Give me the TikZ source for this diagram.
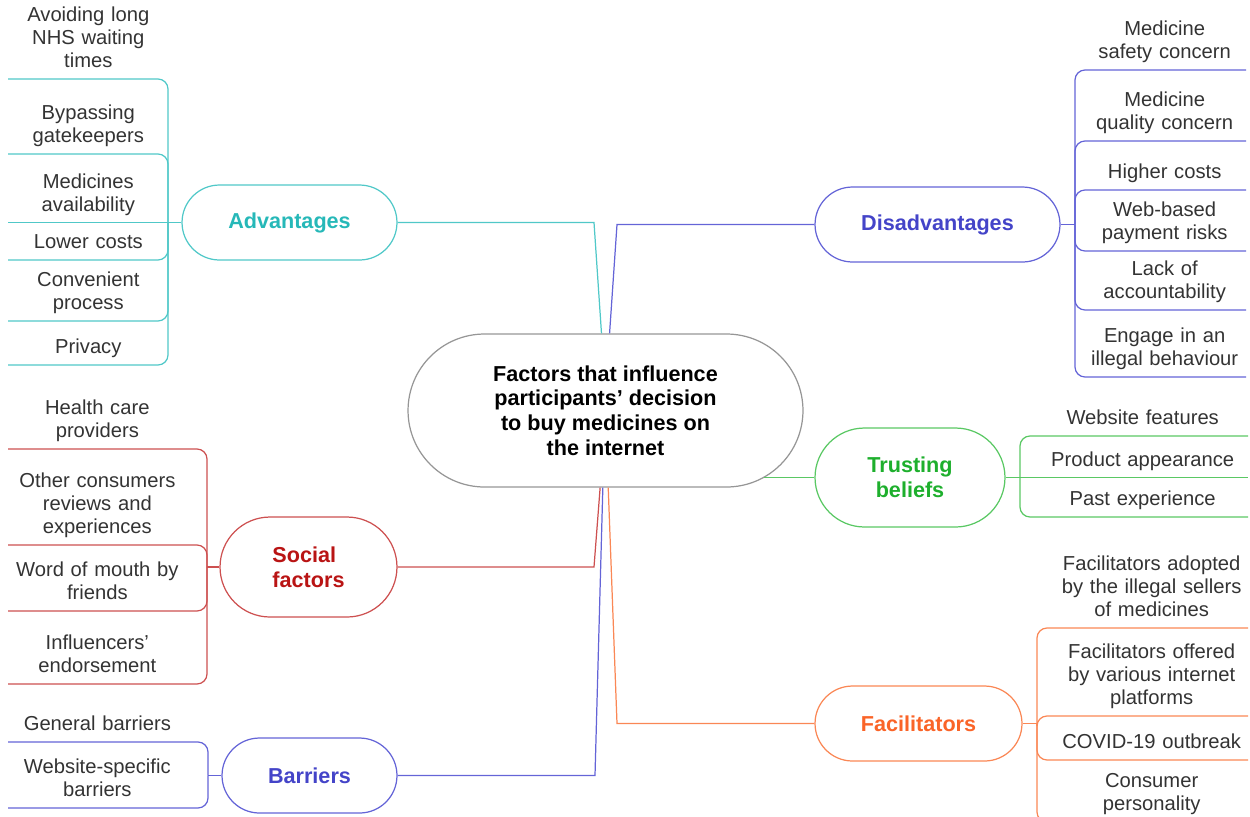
\documentclass[tikz,border=0pt]{standalone}
\usepackage{fontspec}
\setmainfont{Liberation Sans}
\usepackage{xcolor}
\usepackage{tikz}
\usetikzlibrary{shapes.misc}

\definecolor{advtext}{RGB}{38,184,184}
\definecolor{advline}{RGB}{80,200,200}
\definecolor{bluetext}{RGB}{68,68,200}
\definecolor{blueline}{RGB}{100,100,215}
\definecolor{greentext}{RGB}{30,175,45}
\definecolor{greenline}{RGB}{90,200,100}
\definecolor{redtext}{RGB}{185,20,20}
\definecolor{redline}{RGB}{205,80,80}
\definecolor{orangetext}{RGB}{250,100,40}
\definecolor{orangeline}{RGB}{250,135,85}
\definecolor{leaftext}{RGB}{51,51,51}
\definecolor{ctrline}{RGB}{150,150,150}

\begin{document}
\begin{tikzpicture}[x=0.02cm, y=-0.02cm,
    topic/.style={rounded rectangle, draw, line width=0.7pt, align=center, inner sep=0pt,
        minimum height=1.5cm, font=\fontsize{12.3}{14}\selectfont\bfseries},
    leaf/.style={align=center, text=leaftext, inner xsep=0pt, inner ysep=2.4pt,
        font=\fontsize{11.5}{13.1}\selectfont, execute at end node={\strut}},
    branch/.style={line width=0.7pt, rounded corners=0.2cm},
    trunk/.style={line width=0.7pt}]
    \useasboundingbox (0,0) rectangle (1250,816);

    % central topic
    \node[topic, draw=ctrline, minimum width=7.9cm, minimum height=3.06cm] (ctr) at (605.5,410.5)
        {Factors that influence\\participants’ decision\\to buy medicines on\\the internet};

    % main branches
    \node[topic, draw=advline, text=advtext, minimum width=4.3cm] (adv) at (289.5,222.5) {Advantages};
    \node[topic, draw=blueline, text=bluetext, minimum width=4.9cm] (dis) at (937.5,224.5) {Disadvantages};
    \node[topic, draw=greenline, text=greentext, minimum width=3.8cm, minimum height=1.98cm] (trust) at (910,477.5) {Trusting\\beliefs};
    \node[topic, draw=redline, text=redtext, align=left, minimum width=3.54cm, minimum height=2cm] (soc) at (308.5,567) {Social\\factors};
    \node[topic, draw=blueline, text=bluetext, minimum width=3.5cm] (bar) at (309.5,775.5) {Barriers};
    \node[topic, draw=orangeline, text=orangetext, minimum width=4.14cm] (fac) at (918.5,723.5) {Facilitators};

    \draw[trunk, advline] (adv.east) -- (594,222.5) -- (ctr.93);
    \draw[trunk, blueline] (dis.west) -- (617,224.5) -- (ctr.87);
    \draw[trunk, greenline] (trust.west) -- (trust.west -| ctr.-23);
    \draw[trunk, redline] (soc.east) -- (594,567) -- (ctr.-94);
    \draw[trunk, blueline] (bar.east) -- (595,775.5) -- (ctr.-92);
    \draw[trunk, orangeline] (fac.west) -- (617,723.5) -- (ctr.-88);

    % advantages
    \node[leaf, text width=3.2cm, anchor=south west] (a1) at (8,79) {Avoiding long\\NHS waiting\\times};
    \node[leaf, text width=3.2cm, anchor=south west] (a2) at (8,154) {Bypassing\\gatekeepers};
    \node[leaf, text width=3.2cm, anchor=south west] (a3) at (8,222.5) {Medicines\\availability};
    \node[leaf, text width=3.2cm, anchor=south west] (a4) at (8,260) {Lower costs};
    \node[leaf, text width=3.2cm, anchor=south west] (a5) at (8,321) {Convenient\\process};
    \node[leaf, text width=3.2cm, anchor=south west] (a6) at (8,365) {Privacy};
    \coordinate (advJ) at (168,222.5);
    \draw[branch, advline] (adv.west) -- (advJ) -- (a3.south west);
    \foreach \n in {a1,a2,a4,a5,a6}
        \draw[branch, advline] (advJ) |- (\n.south west);

    % disadvantages
    \node[leaf, text width=3.24cm, anchor=south east] (d1) at (1246,70) {Medicine\\safety concern};
    \node[leaf, text width=3.24cm, anchor=south east] (d2) at (1246,141) {Medicine\\quality concern};
    \node[leaf, text width=3.24cm, anchor=south east] (d3) at (1246,190) {Higher costs};
    \node[leaf, text width=3.24cm, anchor=south east] (d4) at (1246,251) {Web-based\\payment risks};
    \node[leaf, text width=3.24cm, anchor=south east] (d5) at (1246,310) {Lack of\\accountability};
    \node[leaf, text width=3.24cm, anchor=south east] (d6) at (1246,377) {Engage in an\\illegal behaviour};
    \coordinate (disJ) at (1075,224.5);
    \draw[branch, blueline] (dis.east) -- (disJ);
    \foreach \n in {d1,d2,d3,d4,d5,d6}
        \draw[branch, blueline] (disJ) |- (\n.south east);

    % trusting beliefs
    \node[leaf, text width=4.2cm, anchor=south east] (t1) at (1248,436) {Website features};
    \node[leaf, text width=4.2cm, anchor=south east] (t2) at (1248,477.5) {Product appearance};
    \node[leaf, text width=4.2cm, anchor=south east] (t3) at (1248,517) {Past experience};
    \coordinate (trJ) at (1020,477.5);
    \draw[branch, greenline] (trust.east) -- (trJ) -- (t2.south east);
    \foreach \n in {t1,t3}
        \draw[branch, greenline] (trJ) |- (\n.south east);

    % social factors
    \node[leaf, text width=3.56cm, anchor=south west] (s1) at (8,449) {Health care\\providers};
    \node[leaf, text width=3.56cm, anchor=south west] (s2) at (8,545) {Other consumers\\reviews and\\experiences};
    \node[leaf, text width=3.56cm, anchor=south west] (s3) at (8,611) {Word of mouth by\\friends};
    \node[leaf, text width=3.56cm, anchor=south west] (s4) at (8,684) {Influencers’\\endorsement};
    \coordinate (socJ) at (207,567);
    \draw[branch, redline] (soc.west) -- (socJ);
    \foreach \n in {s1,s2,s3,s4}
        \draw[branch, redline] (socJ) |- (\n.south west);

    % barriers
    \node[leaf, text width=3.56cm, anchor=south west] (b1) at (8,742) {General barriers};
    \node[leaf, text width=3.56cm, anchor=south west] (b2) at (8,808) {Website-specific\\barriers};
    \coordinate (barJ) at (208,775.5);
    \draw[branch, blueline] (bar.west) -- (barJ);
    \foreach \n in {b1,b2}
        \draw[branch, blueline] (barJ) |- (\n.south west);

    % facilitators
    \node[leaf, text width=3.84cm, anchor=south east] (f1) at (1248,628) {Facilitators adopted\\by the illegal sellers\\of medicines};
    \node[leaf, text width=3.84cm, anchor=south east] (f2) at (1248,716) {Facilitators offered\\by various internet\\platforms};
    \node[leaf, text width=3.84cm, anchor=south east] (f3) at (1248,760) {COVID-19 outbreak};
    \node[leaf, text width=3.84cm, anchor=south east] (f4) at (1248,822) {Consumer\\personality};
    \coordinate (facJ) at (1037,723.5);
    \draw[branch, orangeline] (fac.east) -- (facJ);
    \foreach \n in {f1,f2,f3,f4}
        \draw[branch, orangeline] (facJ) |- (\n.south east);
\end{tikzpicture}
\end{document}
